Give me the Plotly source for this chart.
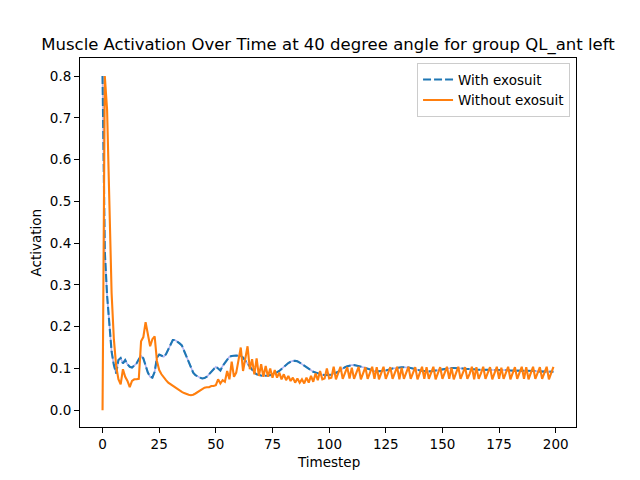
import plotly.graph_objects as go

# ---- data ----
with_exosuit = [
    0.800, 0.380, 0.275, 0.195, 0.140, 0.108, 0.088, 0.120, 0.125, 0.112,   # 0-9
    0.120, 0.110, 0.104, 0.102, 0.106, 0.112, 0.122, 0.130, 0.124, 0.104,   # 10-19
    0.090, 0.080, 0.078, 0.092, 0.126, 0.133, 0.130, 0.128, 0.134, 0.146,   # 20-29
    0.160, 0.168, 0.168, 0.165, 0.160, 0.155, 0.142, 0.130, 0.115, 0.100,   # 30-39
    0.090, 0.084, 0.080, 0.078, 0.076, 0.077, 0.080, 0.086, 0.094, 0.100,   # 40-49
    0.104, 0.100, 0.095, 0.106, 0.114, 0.122, 0.128, 0.130, 0.131, 0.131,   # 50-59
    0.130, 0.130, 0.126, 0.119, 0.110, 0.103, 0.096, 0.090, 0.086, 0.084,   # 60-69
    0.083, 0.082, 0.082, 0.083, 0.084, 0.086, 0.088, 0.091, 0.094, 0.099,   # 70-79
    0.104, 0.109, 0.113, 0.116, 0.118, 0.118, 0.117, 0.114, 0.110, 0.106,   # 80-89
    0.102, 0.098, 0.095, 0.092, 0.090, 0.088, 0.086, 0.085, 0.084, 0.084,   # 90-99
    0.084, 0.085, 0.087, 0.089, 0.092, 0.096, 0.100, 0.103, 0.105, 0.107,   # 100-109
    0.108, 0.108, 0.107, 0.106, 0.105, 0.103, 0.101, 0.099, 0.097, 0.095,   # 110-119
    0.094, 0.093, 0.093, 0.093, 0.094, 0.095, 0.096, 0.098, 0.100, 0.101,   # 120-129
    0.102, 0.103, 0.103, 0.103, 0.103, 0.102, 0.101, 0.100, 0.098, 0.097,   # 130-139
    0.095, 0.094, 0.093, 0.093, 0.093, 0.093, 0.094, 0.095, 0.096, 0.097,   # 140-149
    0.098, 0.099, 0.100, 0.100, 0.101, 0.101, 0.101, 0.101, 0.100, 0.100,   # 150-159
    0.099, 0.099, 0.098, 0.098, 0.098, 0.097, 0.097, 0.097, 0.097, 0.097,   # 160-169
    0.097, 0.097, 0.097, 0.097, 0.096, 0.096, 0.096, 0.096, 0.096, 0.096,   # 170-179
    0.095, 0.095, 0.095, 0.095, 0.095, 0.095, 0.094, 0.094, 0.094, 0.094,   # 180-189
    0.094, 0.094, 0.093, 0.093, 0.093, 0.093, 0.093, 0.093, 0.092, 0.092,   # 190-199
]

without_exosuit = [
    0.000, 0.800, 0.720, 0.480, 0.280, 0.170, 0.106, 0.074, 0.062, 0.098,   # 0-9
    0.080, 0.070, 0.055, 0.070, 0.074, 0.074, 0.075, 0.165, 0.175, 0.211,   # 10-19
    0.180, 0.153, 0.170, 0.177, 0.118, 0.096, 0.086, 0.078, 0.072, 0.066,   # 20-29
    0.062, 0.058, 0.054, 0.050, 0.047, 0.044, 0.041, 0.038, 0.037, 0.036,   # 30-39
    0.037, 0.040, 0.044, 0.048, 0.050, 0.054, 0.055, 0.055, 0.058, 0.058,   # 40-49
    0.060, 0.074, 0.064, 0.072, 0.068, 0.094, 0.074, 0.116, 0.080, 0.090,   # 50-59
    0.120, 0.150, 0.094, 0.120, 0.153, 0.098, 0.122, 0.086, 0.124, 0.082,   # 60-69
    0.110, 0.080, 0.106, 0.080, 0.100, 0.078, 0.096, 0.078, 0.090, 0.074,   # 70-79
    0.086, 0.072, 0.082, 0.070, 0.078, 0.066, 0.076, 0.066, 0.074, 0.064,   # 80-89
    0.078, 0.066, 0.082, 0.068, 0.088, 0.072, 0.094, 0.074, 0.076, 0.100,   # 90-99
    0.076, 0.078, 0.104,                                                    # 100-102
    0.074, 0.088, 0.104, 0.075, 0.087, 0.103, 0.076, 0.102,
    0.075, 0.089, 0.104, 0.074, 0.088, 0.103, 0.075, 0.089, 0.104, 0.075, 0.103,
    0.074, 0.088, 0.104, 0.075, 0.087, 0.103, 0.075, 0.089, 0.104, 0.074, 0.102,
    0.075, 0.088, 0.104, 0.075, 0.089, 0.103, 0.074, 0.088, 0.104, 0.075, 0.103,
    0.075, 0.089, 0.104, 0.074, 0.087, 0.103, 0.075, 0.088, 0.104, 0.075, 0.102,
    0.074, 0.089, 0.104, 0.075, 0.088, 0.103, 0.075, 0.087, 0.104, 0.074, 0.103,
    0.075, 0.088, 0.104, 0.075, 0.089, 0.103, 0.074, 0.088, 0.104, 0.075, 0.102,
    0.075, 0.089, 0.104, 0.074, 0.087, 0.103, 0.075, 0.088, 0.104, 0.075, 0.103,
    0.074, 0.088, 0.104, 0.075, 0.089, 0.103, 0.075, 0.088, 0.104,
    0.074, 0.089, 0.104,
]

x_with = list(range(len(with_exosuit)))
x_without = list(range(len(without_exosuit)))

x_ticks = [0, 25, 50, 75, 100, 125, 150, 175, 200]
y_ticks = [0.0, 0.1, 0.2, 0.3, 0.4, 0.5, 0.6, 0.7, 0.8]

title_text = "Muscle Activation Over Time at 40 degree angle for group QL_ant left"
x_label = "Timestep"
y_label = "Activation"

BLUE = "#1f77b4"
ORANGE = "#ff7f0e"
FONT = "DejaVu Sans"

fig = go.Figure()
# faint underlay visible in the gaps of the dashed line
fig.add_trace(go.Scatter(x=x_with, y=with_exosuit, mode="lines",
                         line=dict(color="#b4b4f2", width=1.6),
                         showlegend=False, hoverinfo="skip"))
fig.add_trace(go.Scatter(x=x_with, y=with_exosuit, mode="lines",
                         name="With exosuit",
                         line=dict(color=BLUE, width=2.1, dash="8px,3px")))
fig.add_trace(go.Scatter(x=x_without, y=without_exosuit, mode="lines",
                         name="Without exosuit",
                         line=dict(color=ORANGE, width=2.1)))

axis_common = dict(
    showline=True, linecolor="black", linewidth=1, mirror=True,
    ticks="outside", ticklen=5, tickwidth=1, tickcolor="black",
    showgrid=False, zeroline=False,
    tickfont=dict(family=FONT, size=13.5, color="black"),
)

fig.update_xaxes(range=[-9.95, 208.95], tickvals=x_ticks,
                 ticktext=[str(v) for v in x_ticks], **axis_common)
fig.update_yaxes(range=[-0.0402, 0.8432], tickvals=y_ticks,
                 ticktext=[f"{v:.1f}" for v in y_ticks], **axis_common)

fig.update_layout(
    width=640, height=480,
    margin=dict(l=80, r=64, t=58, b=53, pad=0),
    paper_bgcolor="white", plot_bgcolor="white",
    font=dict(family=FONT, size=13.5, color="black"),
    title=dict(text=title_text, x=0.5, xref="paper", xanchor="center",
               y=1 - 44 / 480, yref="container", yanchor="middle",
               font=dict(family=FONT, size=16.5, color="black")),
    legend=dict(x=0.988, y=0.986, xanchor="right", yanchor="top",
                bgcolor="rgba(255,255,255,0.8)", bordercolor="#cccccc",
                borderwidth=1, font=dict(family=FONT, size=13.5, color="black"),
                tracegroupgap=0, itemwidth=30),
    annotations=[
        dict(text=x_label, xref="paper", yref="paper", x=0.5, y=-35 / 369,
             xanchor="center", yanchor="middle", showarrow=False,
             font=dict(family=FONT, size=13.5, color="black")),
        dict(text=y_label, xref="paper", yref="paper", x=-45 / 496, y=0.5,
             xanchor="center", yanchor="middle", showarrow=False, textangle=-90,
             font=dict(family=FONT, size=13.5, color="black")),
    ],
)

fig.write_html("out.html",
               config={"displayModeBar": False},
               post_script="document.body.style.margin='0px';document.body.style.padding='0px';")
